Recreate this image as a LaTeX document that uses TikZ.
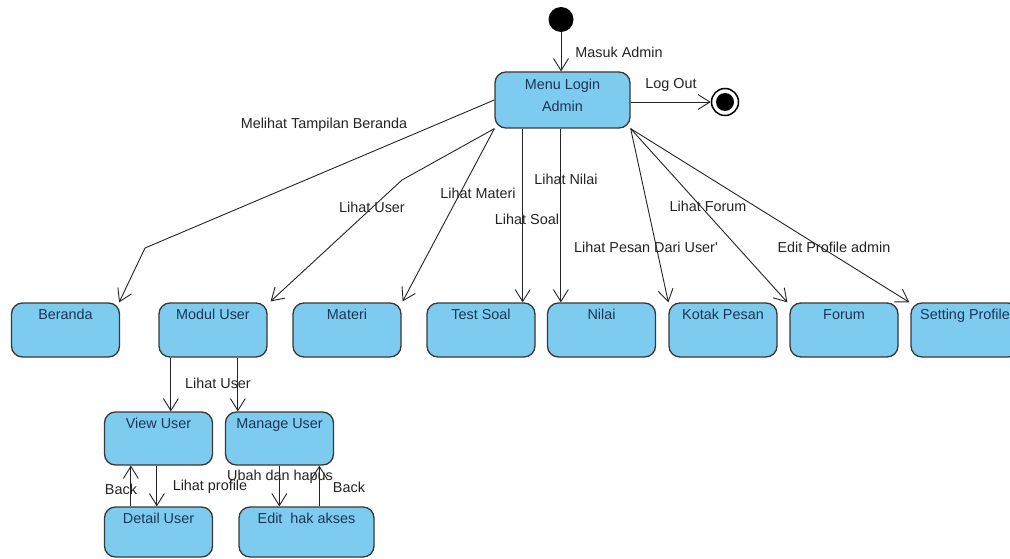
\documentclass[tikz,border=0pt]{standalone}
\usepackage{fontspec}
\setmainfont{Liberation Sans}
\usetikzlibrary{arrows.meta}
\definecolor{statefill}{RGB}{125,204,240}
\definecolor{stateedge}{RGB}{55,55,55}
\definecolor{statetext}{RGB}{28,52,88}
\definecolor{linecol}{RGB}{35,35,35}
\begin{document}
\begin{tikzpicture}[x=1pt,y=-1pt,
  font=\fontsize{14.4}{16}\selectfont,
  state/.style={draw=stateedge, line width=1.3pt, fill=statefill,
    rounded corners=11pt, minimum width=108pt, minimum height=54pt,
    inner sep=0pt,
    label={[anchor=base, yshift=-17pt, text=statetext, inner sep=0pt]north:#1}},
  edge/.style={draw=linecol, line width=0.9pt,
    -{Straight Barb[length=12pt,width=15pt,line width=0.9pt]}},
  lbl/.style={text=linecol, inner sep=0pt}
]
\useasboundingbox (0,0) rectangle (1010,559);
\clip (0,0) rectangle (1010,559);

% start, main menu and end
\node[circle, fill=black, minimum size=25pt, inner sep=0pt] (init) at (561,19.5) {};
\node[draw=stateedge, line width=1.3pt, fill=statefill, rounded corners=11pt,
  minimum width=135pt, minimum height=56pt, inner sep=0pt,
  label={[anchor=north, yshift=-8pt, text=statetext, inner sep=0pt, align=center,
    font=\fontsize{14.4}{22}\selectfont]north:Menu Login\\Admin}] (menu) at (562.5,100) {};
\node[circle, draw=black, line width=1.5pt, fill=white, minimum size=27pt, inner sep=0pt] (final) at (725,102) {};
\node[circle, fill=black, minimum size=18pt, inner sep=0pt] (finaldot) at (final.center) {};

% first level states
\node[state=Beranda] (beranda) at (65.5,330) {};
\node[state=Modul User] (modul) at (213,330) {};
\node[state=Materi] (materi) at (347,330) {};
\node[state=Test Soal] (tsoal) at (481,330) {};
\node[state=Nilai] (nilai) at (601.5,330) {};
\node[state=Kotak Pesan] (kotak) at (723,330) {};
\node[state=Forum] (forum) at (844,330) {};
\node[state=Setting Profile] (setting) at (965,330) {};

% user module states
\node[state=View User, minimum height=53pt] (view) at (158.5,438.5) {};
\node[state=Manage User, minimum height=53pt] (manage) at (279.5,438.5) {};
\node[state=Detail User, minimum height=50pt] (detail) at (158.5,532) {};
\node[state={Edit\ \ hak akses}, minimum width=135pt, minimum height=50pt] (edit) at (306.5,532) {};

% bends and attachment points
\coordinate (bendA) at (145,248);
\coordinate (bendB) at (402,180);
\coordinate (soalpt) at ([xshift=-13pt]tsoal.north east);
\coordinate (nilaipt) at ([xshift=14pt]nilai.north west);
\coordinate (viewin) at ([xshift=67pt]view.north west);
\coordinate (managein) at ([xshift=13pt]manage.north west);
\coordinate (detailin) at ([xshift=53pt]detail.north west);
\coordinate (detailout) at ([xshift=27pt]detail.north west);
\coordinate (editin) at ([xshift=41pt]edit.north west);
\coordinate (editout) at ([xshift=81pt]edit.north west);

% transitions
\draw[edge] (init) -- (init |- menu.north);
\draw[edge] (menu.east |- final) -- (final.west);
\draw[edge] (menu.west) -- (bendA) -- ([xshift=-1pt]beranda.north east);
\draw[edge] (menu.south west) -- (bendB) -- ([xshift=3pt,yshift=1pt]modul.north east);
\draw[edge] (menu.south west) -- ([xshift=1pt,yshift=1pt]materi.north east);
\draw[edge] (menu.south -| soalpt) -- (soalpt);
\draw[edge] (menu.south -| nilaipt) -- (nilaipt);
\draw[edge] (menu.south east) -- (kotak.north west);
\draw[edge] (menu.south east) -- ([xshift=-2pt]forum.north west);
\draw[edge] (menu.south east) -- ([xshift=-1pt]setting.north west);

\draw[edge] (modul.south -| viewin) -- (viewin);
\draw[edge] (modul.south -| managein) -- (managein);
\draw[edge] (view.south -| detailin) -- (detailin);
\draw[edge] (detailout) -- (view.south -| detailout);
\draw[edge] (manage.south -| editin) -- (editin);
\draw[edge] (editout) -- (manage.south -| editout);

% transition labels
\node[lbl] (lmasuk) at (619,52) {Masuk Admin};
\node[lbl] (llogout) at (671,85) {Log Out};
\node[lbl] (lberanda) at (324,125) {Melihat Tampilan Beranda};
\node[lbl] (luser) at (372,207) {Lihat User};
\node[lbl] (lmateri) at (478,193) {Lihat Materi};
\node[lbl] (lsoal) at (527,219) {Lihat Soal};
\node[lbl] (lnilai) at (566,179) {Lihat Nilai};
\node[lbl] (lpesan) at (646,247) {Lihat Pesan Dari User\textquotesingle};
\node[lbl] (lforum) at (708,206) {Lihat Forum};
\node[lbl] (lprofile) at (834,247) {Edit Profile admin};
\node[lbl] (lmodul) at (218,383) {Lihat User};
\node[lbl] (lback1) at (121,489) {Back};
\node[lbl] (llihatprof) at (210,487) {Lihat profile};
\node[lbl] (lubah) at (280,477) {Ubah dan hapus};
\node[lbl] (lback2) at (349,487) {Back};
\end{tikzpicture}
\end{document}
